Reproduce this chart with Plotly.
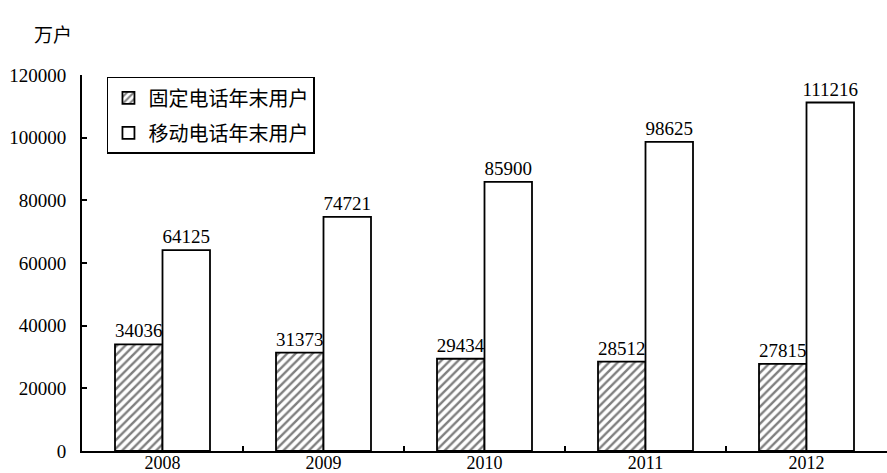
import plotly.graph_objects as go

years = ["2008", "2009", "2010", "2011", "2012"]
fixed_users = [34036, 31373, 29434, 28512, 27815]
mobile_users = [64125, 74721, 85900, 98625, 111216]
series_names = ["固定电话年末用户", "移动电话年末用户"]
y_ticks = [0, 20000, 40000, 60000, 80000, 100000, 120000]

SERIF = "Liberation Serif"
num_font = dict(family=SERIF, size=19, color="black")

fig = go.Figure()
fig.add_trace(go.Bar(
    x=years, y=fixed_users, name=series_names[0], legendgroup="a",
    marker=dict(color="white", line=dict(color="black", width=1.8),
                pattern=dict(shape="/", fgcolor="black", bgcolor="white", size=6, solidity=0.4)),
    text=fixed_users, textposition="outside", textfont=num_font, cliponaxis=False,
    constraintext="none",
))
fig.add_trace(go.Bar(
    x=years, y=mobile_users, name=series_names[1], legendgroup="b",
    marker=dict(color="white", line=dict(color="black", width=1.8)),
    text=mobile_users, textposition="outside", textfont=num_font, cliponaxis=False,
    constraintext="none",
))

fig.update_layout(
    width=887, height=473,
    font=dict(family=SERIF, size=19, color="black"),
    margin=dict(l=82, r=0, t=75, b=22),
    paper_bgcolor="white", plot_bgcolor="white",
    barmode="group", bargap=0.41, bargroupgap=0,
    showlegend=True,
    legend=dict(
        x=0.031, y=0.995, xanchor="left", yanchor="top",
        bordercolor="black", borderwidth=1.5, bgcolor="white",
        font=dict(family="Noto Sans CJK SC", size=20, color="black"),
        itemwidth=30, tracegroupgap=6,
    ),
    annotations=[dict(
        text="万户", xref="paper", yref="paper", x=-0.036, y=1.11,
        xanchor="center", yanchor="middle", showarrow=False,
        font=dict(family="Noto Sans CJK SC", size=19, color="black"),
    )],
)
fig.update_xaxes(
    type="category", showline=True, linecolor="black", linewidth=2,
    ticks="inside", tickson="boundaries", ticklen=5, tickcolor="black", tickwidth=1.5,
    tickfont=dict(family=SERIF, size=18, color="black"), ticklabelstandoff=-6,
    automargin=False, showgrid=False, zeroline=False,
)
fig.update_yaxes(
    range=[0, 120000], tickvals=y_ticks, ticktext=[str(v) for v in y_ticks],
    showline=True, linecolor="black", linewidth=2,
    ticks="inside", ticklen=5, tickcolor="black", tickwidth=1.5,
    tickfont=dict(family=SERIF, size=19, color="black"), ticklabelstandoff=10,
    automargin=False, showgrid=False, zeroline=False,
)

fig.write_html("out.html", config={"displayModeBar": False},
               post_script="document.body.style.margin='0';")
